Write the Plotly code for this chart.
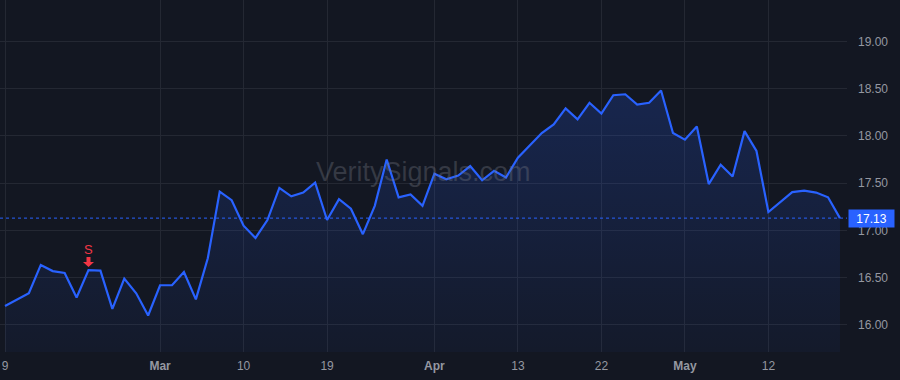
import plotly.graph_objects as go

# ---- data ----
bar_index = list(range(71))
close = [
    16.20, 16.27, 16.335, 16.635, 16.57, 16.55, 16.29, 16.58, 16.575, 16.17,
    16.49, 16.335, 16.10, 16.42, 16.42, 16.56, 16.27, 16.705, 17.41, 17.32,
    17.05, 16.92, 17.11, 17.45, 17.36, 17.40, 17.505, 17.11, 17.33, 17.23,
    16.96, 17.26, 17.75, 17.35, 17.38, 17.26, 17.60, 17.54, 17.58, 17.68,
    17.53, 17.63, 17.56, 17.77, 17.90, 18.03, 18.12, 18.29, 18.175, 18.35,
    18.235, 18.43, 18.44, 18.33, 18.35, 18.48, 18.03, 17.96, 18.10, 17.49,
    17.695, 17.57, 18.05, 17.84, 17.195, 17.30, 17.405, 17.42, 17.40, 17.35,
    17.13,
]
tick_index = [0, 13, 20, 27, 36, 43, 50, 57, 64]
tick_labels = ["9", "<b>Mar</b>", "10", "19", "<b>Apr</b>", "13", "22", "<b>May</b>", "12"]
y_ticks = [16.0, 16.5, 17.0, 17.5, 18.0, 18.5, 19.0]
signal_index = 7
signal_text = "S"

# ---- style ----
BG = "#131722"
GRID = "#242833"
LINE = "#2962ff"
TXT = "#9598a1"
RED = "#f23645"
FONT = "Liberation Sans, Arial, sans-serif"

x_range = [-0.42, 70.59]
y_range = [15.714, 19.437]

fig = go.Figure()
fig.add_trace(go.Scatter(
    x=bar_index, y=close, mode="lines",
    line=dict(color=LINE, width=2.2),
    fill="tozeroy",
    fillgradient=dict(
        type="vertical",
        start=y_range[0], stop=max(close),
        colorscale=[[0, "rgba(41,98,255,0.04)"], [1, "rgba(41,98,255,0.20)"]],
    ),
    hoverinfo="skip", showlegend=False,
))

last = close[-1]
# dotted last-price line
fig.add_shape(type="line", xref="paper", x0=0, x1=1, yref="y", y0=last, y1=last,
              line=dict(color=LINE, width=1, dash="dot"))
# last-price label
fig.add_annotation(xref="paper", x=1, xanchor="left", xshift=1, yref="y", y=last,
                   text=f"{last:.2f}", showarrow=False, bgcolor=LINE,
                   font=dict(color="#ffffff", size=12, family=FONT),
                   width=41, height=13, borderpad=2, align="center")
# signal marker: "S" label and block down-arrow anchored to the signal bar
fig.add_annotation(x=signal_index, y=close[signal_index], text=signal_text, showarrow=False,
                   yshift=21, font=dict(color=RED, size=13, family=FONT))
fig.add_shape(type="path", xref="x", yref="y",
              xsizemode="pixel", ysizemode="pixel",
              xanchor=signal_index, yanchor=close[signal_index],
              path="M -2,13 L 2,13 L 2,8 L 5.5,8 L 0,3 L -5.5,8 L -2,8 Z",
              fillcolor=RED, line=dict(width=0))
# watermark
fig.add_annotation(xref="paper", yref="paper", x=0.5, y=0.51, text="VeritySignals.com",
                   showarrow=False, font=dict(color="rgba(120,123,134,0.34)", size=27, family=FONT))

fig.update_layout(
    width=900, height=380,
    margin=dict(l=0, r=53, t=0, b=28),
    paper_bgcolor=BG, plot_bgcolor=BG,
    font=dict(family=FONT, color=TXT, size=12),
    xaxis=dict(range=x_range, tickmode="array", tickvals=tick_index, ticktext=tick_labels,
               showgrid=True, gridcolor=GRID, gridwidth=1, zeroline=False, showline=False,
               ticks="", ticklabelstandoff=5, tickfont=dict(color=TXT, size=12), fixedrange=True),
    yaxis=dict(range=y_range, side="right", tickmode="array", tickvals=y_ticks,
               ticktext=[f"{v:.2f}" for v in y_ticks],
               showgrid=True, gridcolor=GRID, gridwidth=1, zeroline=False, showline=False,
               ticks="", ticklabelstandoff=10, tickfont=dict(color=TXT, size=12), fixedrange=True),
)

fig.write_html("out.html")
